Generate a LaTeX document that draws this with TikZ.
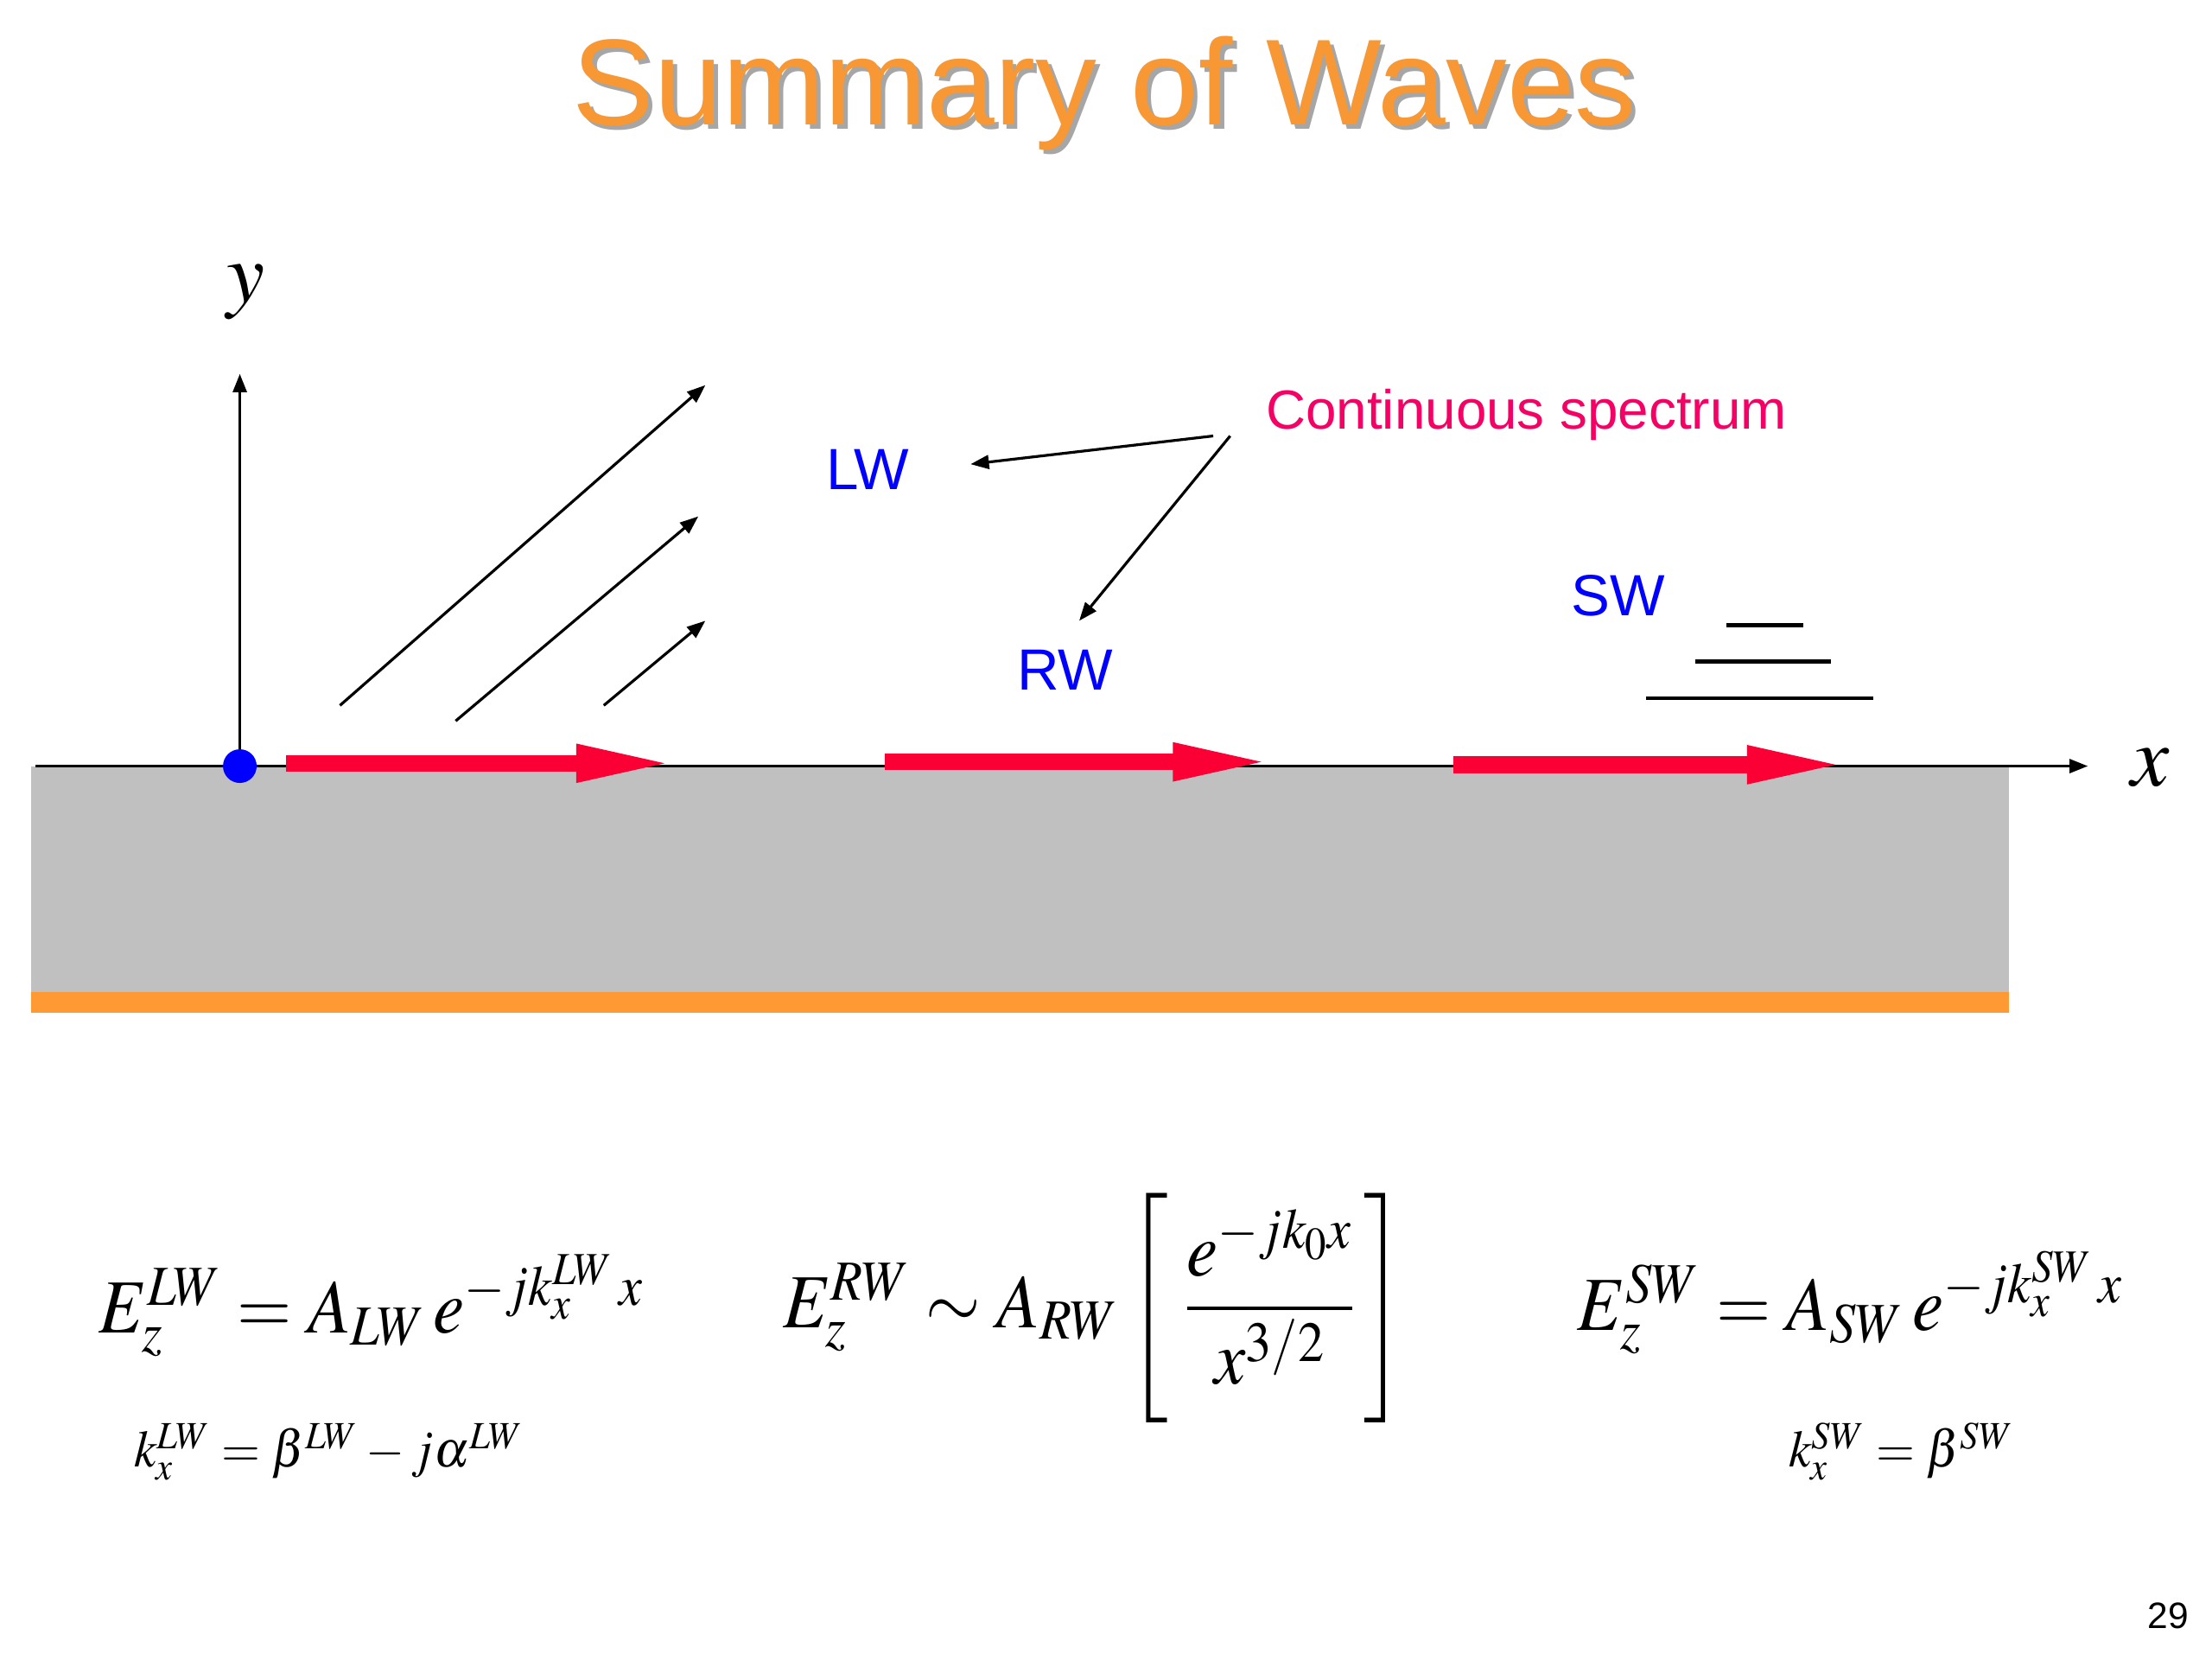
\documentclass[tikz,border=0pt]{standalone}
\usepackage{mathptmx}
\usepackage{graphicx}
\usepackage{fontspec}
\setmainfont{Liberation Serif}
\newfontfamily\helv{Liberation Sans}
\usetikzlibrary{arrows.meta}

\definecolor{titleorange}{RGB}{248,152,52}
\definecolor{striporange}{RGB}{255,153,51}
\definecolor{wavered}{RGB}{250,0,52}
\definecolor{specred}{RGB}{245,0,100}
\definecolor{slabgray}{RGB}{192,192,192}
\newcommand{\narrow}[1]{\scalebox{0.92}[1]{#1}}

\begin{document}
\begin{tikzpicture}[x=0.162mm, y=-0.162mm]
    \tikzstyle{every node}=[inner sep=0pt, outer sep=0pt]
    \tikzstyle{ptr}=[line width=0.9pt, -{Triangle[length=6pt, width=4.5pt]}]
    \tikzstyle{redwave}=[draw=wavered, line width=5.5pt, -{Triangle[length=33pt, width=11pt]}]
    \tikzstyle{wavename}=[text=blue, font=\helv\fontsize{19}{22}\selectfont]
    \tikzstyle{bigeq}=[anchor=base west, font=\fontsize{25}{30}\selectfont]
    \tikzstyle{smalleq}=[anchor=base west, font=\fontsize{17}{22}\selectfont]
    \useasboundingbox (0,0) rectangle (1568,1176);
    % title with shadow
    \node[text=gray!70, font=\helv\fontsize{40}{46}\selectfont] (titleshadow) at (786,69) {Summary of Waves};
    \node[text=titleorange, font=\helv\fontsize{40}{46}\selectfont] (title) at (783,66) {Summary of Waves};
    % slab and ground plane
    \fill[slabgray] (22,543) rectangle (1424,703);
    \fill[striporange] (22,703) rectangle (1424,718);
    % axes
    \coordinate (xstart) at (25,543);
    \coordinate (xtip) at (1480,543);
    \coordinate (ytip) at (170,265);
    \draw[ptr] (xstart) -- (xtip);
    \node[circle, fill=blue, minimum size=11pt] (src) at (170,543) {};
    \draw[ptr] (src) -- (ytip);
    \node[font=\fontsize{28}{32}\selectfont] (ylab) at (174,207) {$y$};
    \node[font=\fontsize{28}{32}\selectfont] (xlab) at (1524,544) {$x$};
    % leaky rays
    \coordinate (ra1) at (241,500); \coordinate (rb1) at (500,273);
    \coordinate (ra2) at (323,511); \coordinate (rb2) at (495,366);
    \coordinate (ra3) at (428,500); \coordinate (rb3) at (500,440);
    \draw[ptr] (ra1) -- (rb1);
    \draw[ptr] (ra2) -- (rb2);
    \draw[ptr] (ra3) -- (rb3);
    % guided waves along the interface
    \coordinate (wa1) at (203,541); \coordinate (wb1) at (480,541);
    \coordinate (wa2) at (627,540); \coordinate (wb2) at (903,540);
    \coordinate (wa3) at (1030,542); \coordinate (wb3) at (1310,542);
    \draw[redwave] (wa1) -- (wb1);
    \draw[redwave] (wa2) -- (wb2);
    \draw[redwave] (wa3) -- (wb3);
    % labels
    \node[wavename] (lw) at (615,333) {LW};
    \node[wavename] (rw) at (755,475) {RW};
    \node[wavename] (sw) at (1147,422) {SW};
    \node[text=specred, font=\helv\fontsize{18}{22}\selectfont] (cs) at (1082,294) {Continuous spectrum};
    \coordinate (csA) at (860,309); \coordinate (lwtip) at (688,329);
    \coordinate (csB) at (872,309); \coordinate (rwtip) at (765,440);
    \draw[ptr] (csA) -- (lwtip);
    \draw[ptr] (csB) -- (rwtip);
    % surface wave field levels
    \draw[line width=1.3pt] (1224,443) -- (1278,443);
    \draw[line width=1.3pt] (1202,469) -- (1298,469);
    \draw[line width=1.3pt] (1167,495) -- (1328,495);
    % field expressions
    \node[bigeq] (eqlw) at (70,945) {\narrow{$E_z^{LW} = A_{LW}\, e^{-jk_x^{LW}\,x}$}};
    \node[bigeq] (eqrw) at (555,941) {\narrow{$E_z^{RW} \sim A_{RW}\left[\;\rule[-28pt]{0pt}{72pt}\displaystyle\frac{e^{-jk_0x}}{x^{3/2}}\,\right]$}};
    \node[bigeq] (eqsw) at (1118,943) {\narrow{$E_z^{SW} = A_{SW}\, e^{-jk_x^{SW}\,x}$}};
    \node[smalleq] (klw) at (95,1040) {\scalebox{0.96}[1]{$k_x^{LW} = \beta^{LW} - j\alpha^{LW}$}};
    \node[smalleq] (ksw) at (1268,1040) {\scalebox{0.96}[1]{$k_x^{SW} = \beta^{SW}$}};
    \node[font=\helv\fontsize{12}{14}\selectfont] (page) at (1537,1145) {29};
\end{tikzpicture}
\end{document}
